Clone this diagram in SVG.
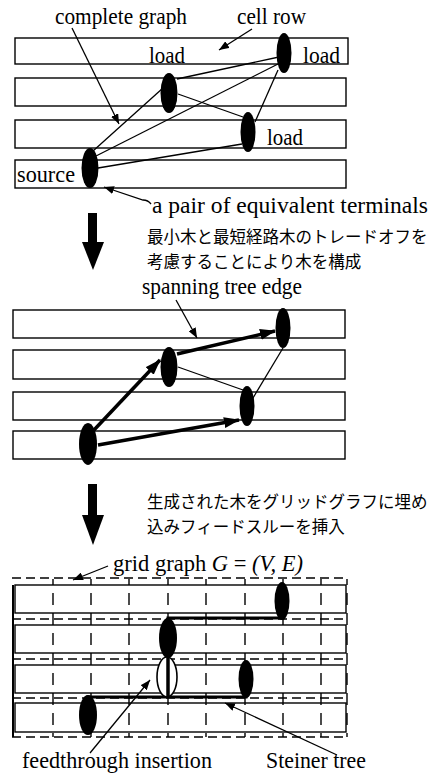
<svg xmlns="http://www.w3.org/2000/svg" width="432" height="780" viewBox="0 0 432 780">
<style>
.row{fill:#fff;stroke:#000;stroke-width:1.4}
.node{fill:#000}
.edge{stroke:#000;stroke-width:1.3;fill:none}
.tree{stroke:#000;stroke-width:3.5;fill:none}
.ptr{stroke:#000;stroke-width:1.3;fill:none}
.wire{stroke:#000;stroke-width:3;fill:none}
.grid{stroke:#000;stroke-width:1.4;stroke-dasharray:9,5;fill:none}
.gridv{stroke:#000;stroke-width:1.4;stroke-dasharray:12,8;stroke-dashoffset:6;fill:none}
.lbl{font-family:"Liberation Serif","Times New Roman",serif;font-size:22.5px;fill:#000}
.jp{font-family:"Noto Sans CJK JP","Noto Sans",sans-serif;font-size:16.5px;fill:#000}
.big{fill:#000}
</style>
<defs>
<marker id="ah" markerUnits="userSpaceOnUse" markerWidth="10" markerHeight="8" refX="10" refY="4" orient="auto"><path d="M0,0 L10,4 L0,8 z" fill="#000"/></marker>
<marker id="th" markerUnits="userSpaceOnUse" markerWidth="16" markerHeight="11" refX="15" refY="5.5" orient="auto"><path d="M0,0 L16,5.5 L0,11 z" fill="#000"/></marker>
</defs>

<!-- Panel 1 -->
<g id="rows1">
<rect class="row" x="15" y="38" width="333" height="26"/>
<rect class="row" x="15" y="78" width="331" height="28"/>
<rect class="row" x="15" y="120" width="331" height="28"/>
<rect class="row" x="15" y="160" width="331" height="28"/>
</g>
<g id="connectors1">
<line class="edge" x1="279" y1="57" x2="177" y2="79"/>
<line class="edge" x1="280" y1="63" x2="96" y2="156"/>
<line class="edge" x1="278" y1="70" x2="255" y2="122"/>
<line class="edge" x1="178" y1="94" x2="243" y2="117"/>
<line class="edge" x1="163" y1="88" x2="93" y2="151"/>
<line class="edge" x1="242" y1="144" x2="98" y2="168"/>
<line class="ptr" x1="72" y1="28" x2="119" y2="124" marker-end="url(#ah)"/>
<line class="ptr" x1="252" y1="29" x2="219" y2="50" marker-end="url(#ah)"/>
<path class="ptr" d="M151,204 Q148,200 143,200 L104,187" marker-end="url(#ah)"/>
</g>
<g id="p1-load-tr"><ellipse class="node" cx="284" cy="53" rx="7.5" ry="20"/></g>
<g id="p1-load-mid"><ellipse class="node" cx="169" cy="93" rx="8.5" ry="20"/></g>
<g id="p1-load-low"><ellipse class="node" cx="248" cy="132" rx="7.5" ry="20"/></g>
<g id="p1-source"><ellipse class="node" cx="90" cy="168" rx="8.5" ry="20"/></g>
<g id="labels1">
<text class="lbl" x="55" y="24" textLength="132" lengthAdjust="spacingAndGlyphs">complete graph</text>
<text class="lbl" x="237" y="24" textLength="69" lengthAdjust="spacingAndGlyphs">cell row</text>
<text class="lbl" x="149" y="63" textLength="36" lengthAdjust="spacingAndGlyphs">load</text>
<text class="lbl" x="303" y="63" textLength="37" lengthAdjust="spacingAndGlyphs">load</text>
<text class="lbl" x="267" y="145" textLength="36" lengthAdjust="spacingAndGlyphs">load</text>
<text class="lbl" x="17" y="182" textLength="58" lengthAdjust="spacingAndGlyphs">source</text>
<text class="lbl" x="152" y="213" textLength="276" lengthAdjust="spacingAndGlyphs">a pair of equivalent terminals</text>
</g>

<!-- Arrow 1 -->
<g id="step1">
<rect class="big" x="88" y="213" width="9" height="30"/>
<polygon class="big" points="82,242 104,242 93,270"/>
<text class="jp" x="147" y="243">最小木と最短経路木のトレードオフを</text>
<text class="jp" x="147" y="268">考慮することにより木を構成</text>
</g>

<!-- Panel 2 -->
<g id="rows2">
<rect class="row" x="13" y="310" width="332" height="28"/>
<rect class="row" x="13" y="350" width="332" height="29"/>
<rect class="row" x="13" y="392" width="332" height="28"/>
<rect class="row" x="13" y="431" width="332" height="28"/>
</g>
<g id="connectors2">
<line class="tree" x1="94" y1="430" x2="160" y2="360" marker-end="url(#th)"/>
<line class="tree" x1="98" y1="445" x2="239" y2="420" marker-end="url(#th)"/>
<line class="tree" x1="177" y1="354" x2="275" y2="331" marker-end="url(#th)"/>
<line class="edge" x1="178" y1="367" x2="243" y2="390"/>
<line class="edge" x1="253" y1="398" x2="283" y2="348"/>
<line class="ptr" x1="176" y1="300" x2="197" y2="338" marker-end="url(#ah)"/>
</g>
<g id="p2-load-tr"><ellipse class="node" cx="283" cy="328" rx="7.5" ry="20"/></g>
<g id="p2-load-mid"><ellipse class="node" cx="169" cy="367" rx="8.5" ry="20"/></g>
<g id="p2-load-low"><ellipse class="node" cx="247" cy="406" rx="7.5" ry="20"/></g>
<g id="p2-source"><ellipse class="node" cx="88" cy="444" rx="9" ry="21"/></g>
<g id="labels2">
<text class="lbl" x="142" y="294" textLength="160" lengthAdjust="spacingAndGlyphs">spanning tree edge</text>
</g>

<!-- Arrow 2 -->
<g id="step2">
<rect class="big" x="88" y="484" width="9" height="32"/>
<polygon class="big" points="82,515 104,515 93,545"/>
<text class="jp" x="147" y="508">生成された木をグリッドグラフに埋め</text>
<text class="jp" x="147" y="533">込みフィードスルーを挿入</text>
</g>

<!-- Panel 3 -->
<g id="rows3">
<rect class="row" x="15" y="585" width="331" height="28"/>
<rect class="row" x="15" y="625" width="331" height="28"/>
<rect class="row" x="15" y="665" width="331" height="28"/>
<rect class="row" x="15" y="703" width="331" height="29"/>
<line x1="13" y1="585" x2="13" y2="737" stroke="#000" stroke-width="2"/>
</g>
<g id="gridgraph">
<line class="grid" x1="12" y1="578" x2="348" y2="578"/>
<line class="grid" x1="12" y1="619" x2="348" y2="619"/>
<line class="grid" x1="12" y1="659" x2="348" y2="659"/>
<line class="grid" x1="12" y1="698" x2="348" y2="698"/>
<line class="grid" x1="12" y1="737" x2="348" y2="737"/>
<line class="gridv" x1="53" y1="579" x2="53" y2="737"/>
<line class="gridv" x1="91" y1="579" x2="91" y2="737"/>
<line class="gridv" x1="129" y1="579" x2="129" y2="737"/>
<line class="gridv" x1="168" y1="579" x2="168" y2="737"/>
<line class="gridv" x1="206" y1="579" x2="206" y2="737"/>
<line class="gridv" x1="245" y1="579" x2="245" y2="737"/>
<line class="gridv" x1="283" y1="579" x2="283" y2="737"/>
<line class="gridv" x1="321" y1="579" x2="321" y2="737"/>
<line class="gridv" x1="347" y1="579" x2="347" y2="737"/>
</g>
<g id="connectors3">
<path class="wire" d="M283,601 V618 H168 V638"/>
<path class="wire" d="M88,715 V697 H246 V679"/>
<line class="ptr" x1="90" y1="753" x2="150" y2="680" marker-end="url(#ah)"/>
<line class="ptr" x1="337" y1="755" x2="225" y2="703" marker-end="url(#ah)"/>
<line class="ptr" x1="108" y1="566" x2="73" y2="580" marker-end="url(#ah)"/>
</g>
<g id="p3-load-tr"><ellipse class="node" cx="282" cy="601" rx="7.5" ry="19"/></g>
<g id="p3-load-mid"><ellipse class="node" cx="168" cy="638" rx="9" ry="20"/></g>
<g id="p3-feedthrough">
<ellipse cx="167" cy="677" rx="10" ry="20" fill="#fff" stroke="#000" stroke-width="1.6"/>
<line x1="168" y1="656" x2="168" y2="697" stroke="#000" stroke-width="3.5"/>
</g>
<g id="p3-load-low"><ellipse class="node" cx="246" cy="679" rx="7.5" ry="19"/></g>
<g id="p3-source"><ellipse class="node" cx="88" cy="715" rx="9" ry="20"/></g>
<g id="labels3">
<text class="lbl" x="113" y="571" textLength="190" lengthAdjust="spacingAndGlyphs">grid graph <tspan font-style="italic">G</tspan> = <tspan font-style="italic">(V, E)</tspan></text>
<text class="lbl" x="22" y="768" textLength="190" lengthAdjust="spacingAndGlyphs">feedthrough insertion</text>
<text class="lbl" x="266" y="768" textLength="100" lengthAdjust="spacingAndGlyphs">Steiner tree</text>
</g>
</svg>
